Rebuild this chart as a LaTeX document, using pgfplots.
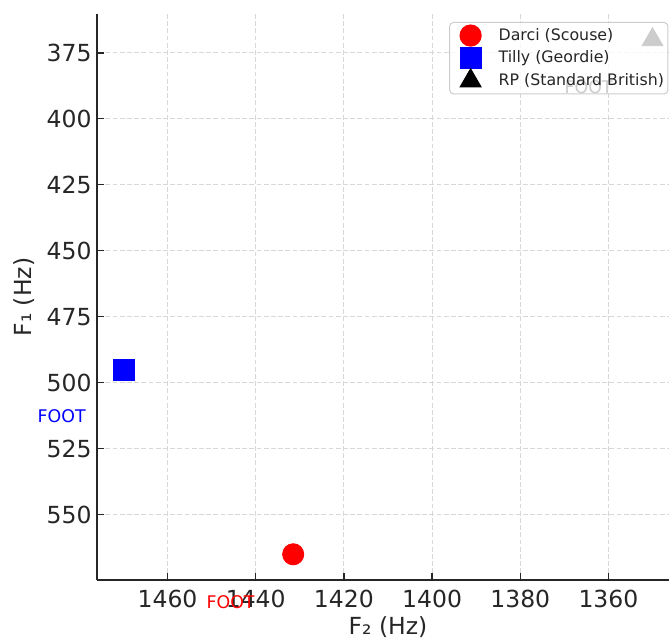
\documentclass[border=0pt]{standalone}
\usepackage{fontspec}
\setmainfont{DejaVu Sans}
\usepackage{pgfplots}
\pgfplotsset{compat=1.18}
\definecolor{spine}{HTML}{262626}
\definecolor{gridc}{HTML}{D8D8D8}
\definecolor{legframe}{HTML}{CCCCCC}

\begin{document}
\begin{tikzpicture}
\begin{axis}[
  at={(0,0)}, anchor=south west,
  scale only axis,
  width=291pt, height=283pt,
  xmin=1344, xmax=1476,
  ymin=360.25, ymax=574.75,
  x dir=reverse, y dir=reverse,
  clip=false,
  axis line style={draw=none},
  xtick={1360,1380,1400,1420,1440,1460},
  ytick={375,400,425,450,475,500,525,550},
  xtick pos=left, ytick pos=left,
  tick align=inside,
  major tick length=3.5pt,
  tick style={spine, line width=0.6pt},
  /pgf/number format/assume math mode=true,
  /pgf/number format/set thousands separator={},
  ticklabel style={font=\fontsize{11.75}{14}\selectfont, text=spine},
  xticklabel style={yshift=-1.5pt},
  yticklabel style={xshift=0.8pt},
  grid=major,
  grid style={gridc, line width=0.5pt, dash pattern=on 2.4pt off 1.2pt},
  xlabel={F₂ (Hz)},
  ylabel={F₁ (Hz)},
  label style={font=\fontsize{11.75}{14}\selectfont, text=spine},
  x label style={at={(axis description cs:0.5,0)}, anchor=center, yshift=-23.5pt},
  y label style={at={(axis description cs:0,0.5)}, anchor=center, yshift=36.5pt},
  legend style={
    at={(0.605,0.986)}, anchor=north west,
    draw=legframe, line width=0.5pt, rounded corners=2pt,
    fill=white, fill opacity=0.8, text opacity=1,
    font=\fontsize{7.9}{9}\selectfont, text=spine,
    row sep=-0.3pt, inner xsep=0pt, inner ysep=0.8pt,
  },
  legend cell align=left,
  legend image code/.code={%
    \path[draw=none, fill=none] (0pt,0pt) rectangle (22.5pt,0pt);
    \path[#1, only marks, fill opacity=1, draw opacity=1] plot coordinates {(10.5pt,0pt)};
  },
]
% speaker measurements
\addplot[only marks, mark=*, mark size=5.3pt, color=red] coordinates {(1431.5,565)};
\addlegendentry{Darci (Scouse)}
\addplot[only marks, mark=square*, mark size=5.25pt, color=blue] coordinates {(1470,495)};
\addlegendentry{Tilly (Geordie)}
\addplot[only marks, mark=triangle*, mark size=6pt, color=black] coordinates {(1350,370)};
\addlegendentry{RP (Standard British)}

% word labels beside each point
\node[text=red, font=\fontsize{8.7}{10}\selectfont] at (axis cs:1445.7,583) {FOOT};
\node[text=blue, font=\fontsize{8.7}{10}\selectfont] at (axis cs:1484,512.5) {FOOT};
\node[text=black, font=\fontsize{8.7}{10}\selectfont] at (axis cs:1364.5,388) {FOOT};

% left and bottom spines only
\draw[spine, line width=0.75pt] (axis description cs:0,0) -- (axis description cs:0,1);
\draw[spine, line width=0.75pt] (axis description cs:0,0) -- (axis description cs:1,0);
\end{axis}
\pgfresetboundingbox
\useasboundingbox (-48.5pt,-29pt) rectangle (286pt,290pt);
\end{tikzpicture}
\end{document}
